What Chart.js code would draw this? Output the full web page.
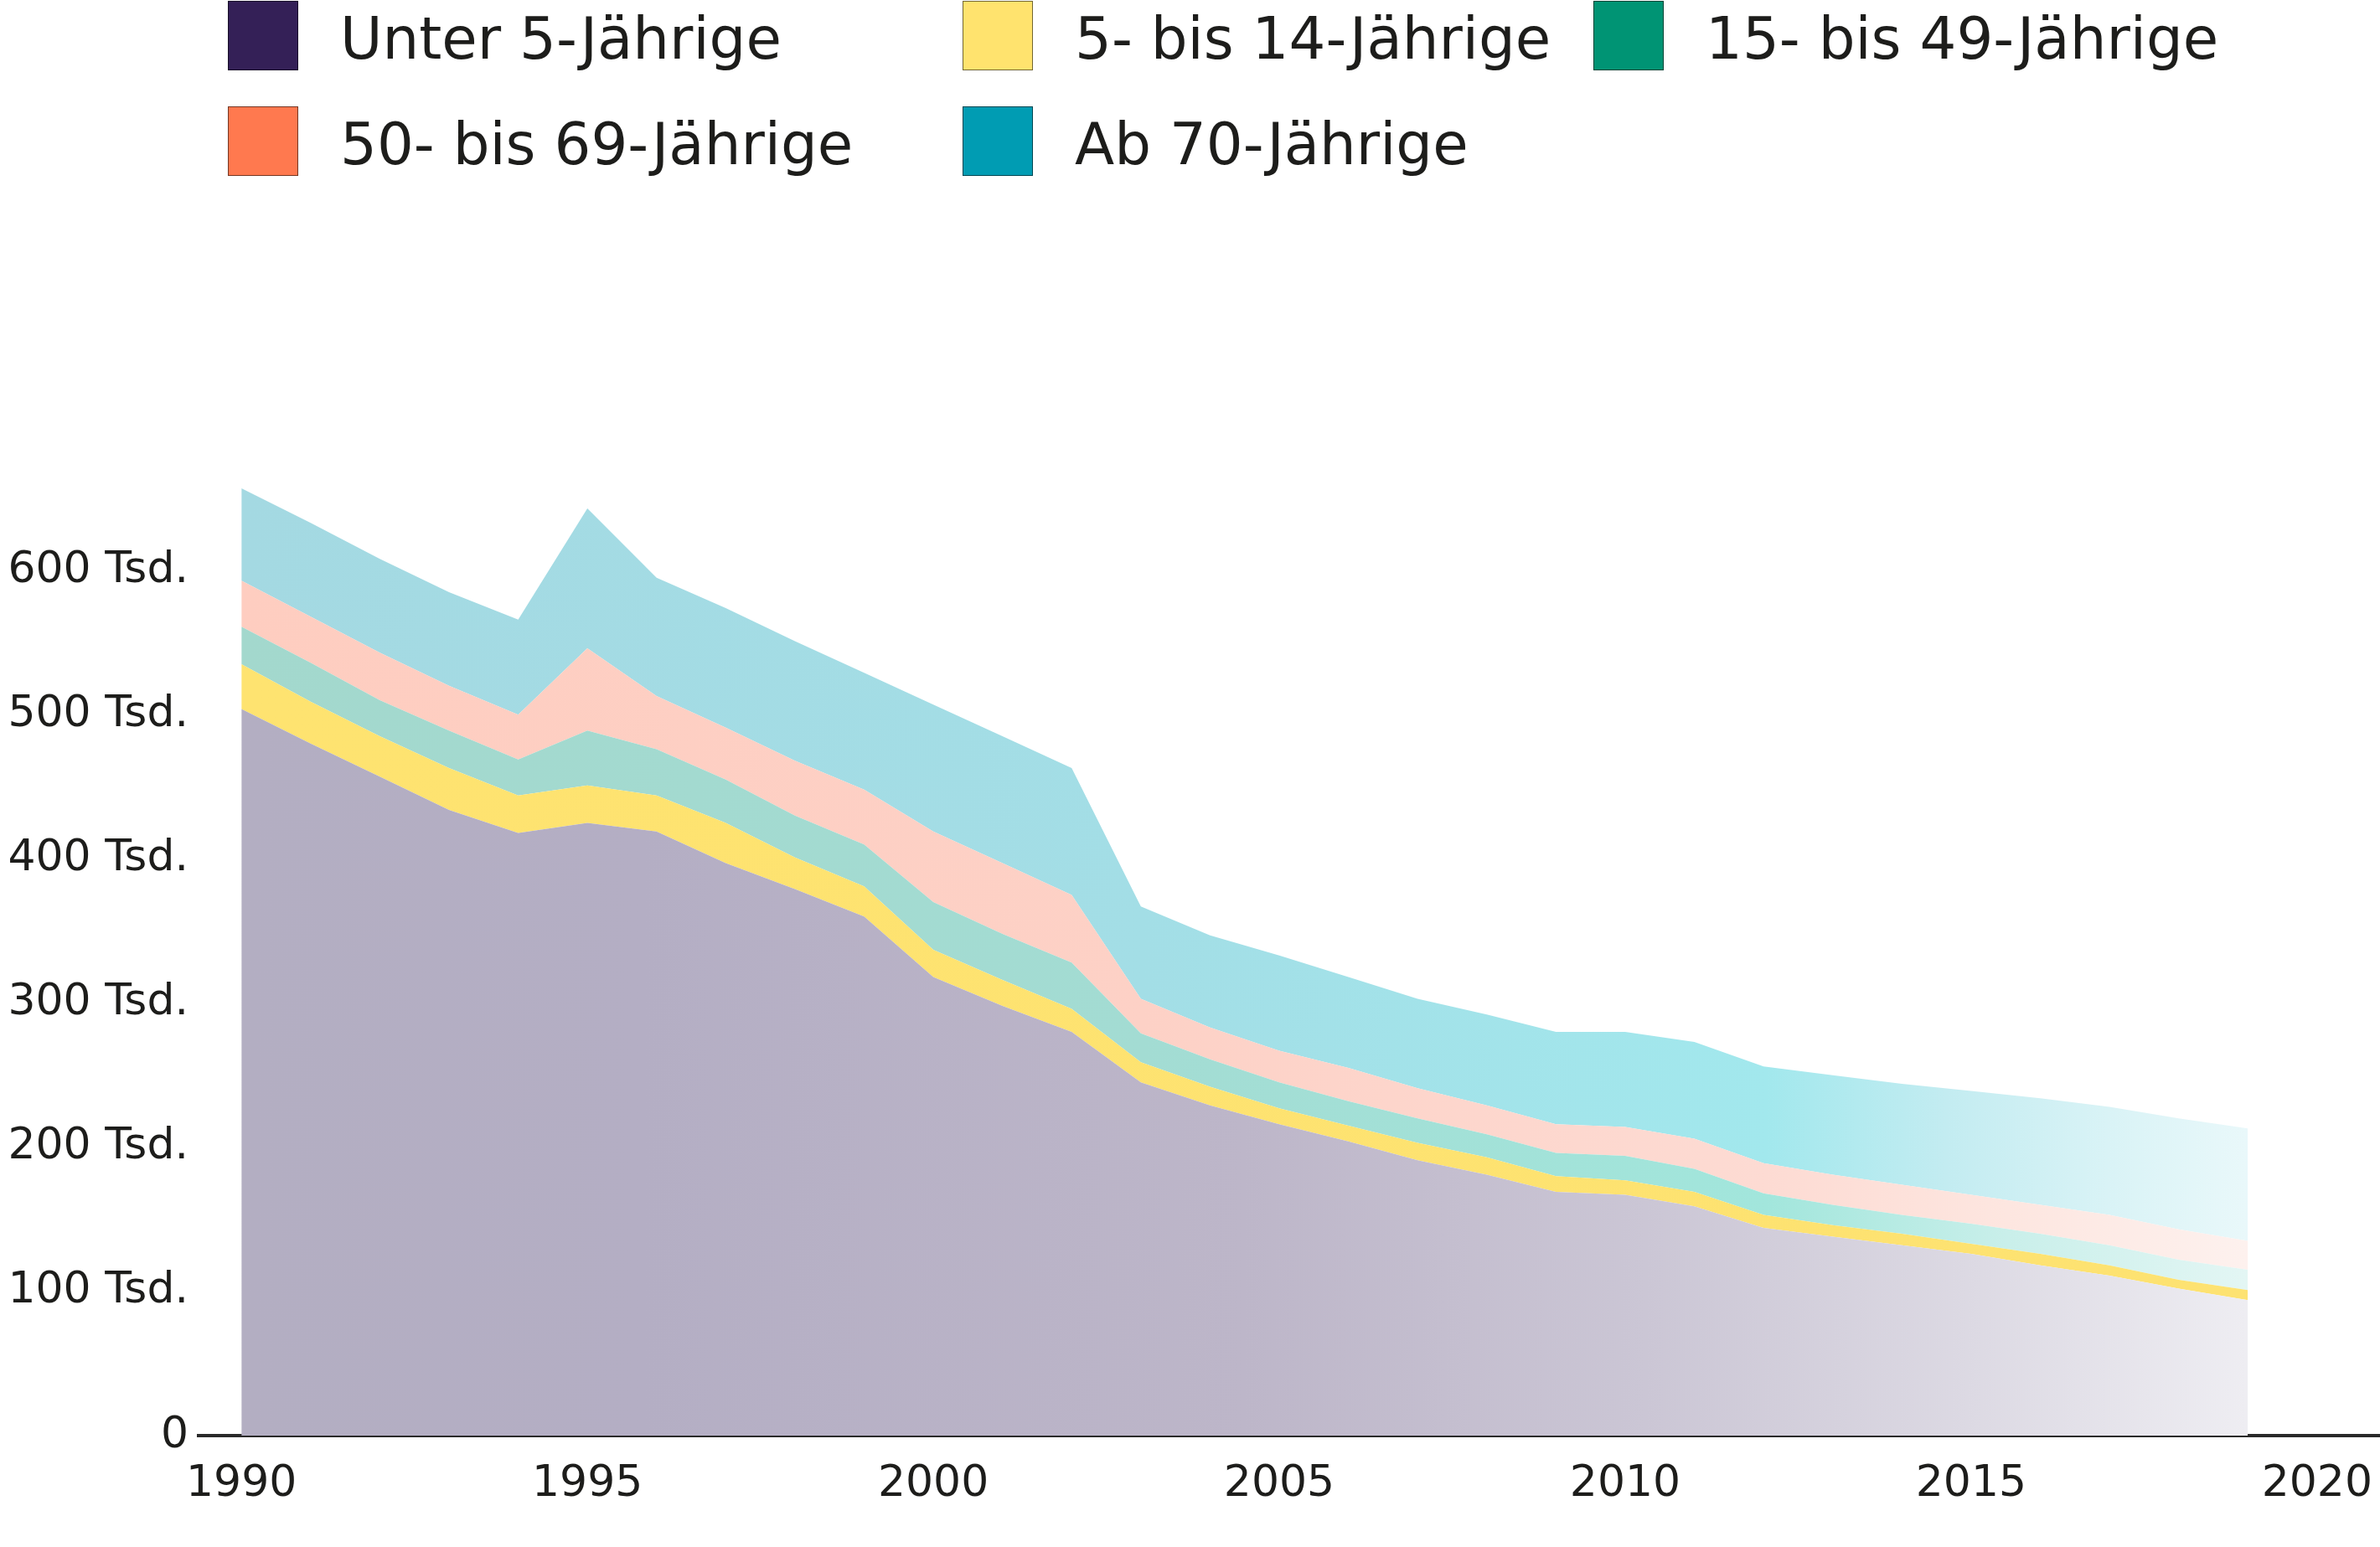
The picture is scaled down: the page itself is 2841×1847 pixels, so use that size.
<!DOCTYPE html>
<html>
<head>
<meta charset="utf-8">
<script src="https://cdn.jsdelivr.net/npm/chart.js@4.4.1/dist/chart.umd.min.js"></script>
<style>
html, body { margin: 0; padding: 0; background: #ffffff; }
#wrap { position: relative; width: 2841px; height: 1847px; overflow: hidden; }
#chart { position: absolute; left: 0; top: 0; }
.lg-item { position: absolute; height: 85px; font-family: 'DejaVu Sans', sans-serif; color: #1d1d1b; }
.lg-box { position: absolute; left: 0; top: 0; width: 84px; height: 83px; box-sizing: border-box; border: 1px solid rgba(0,0,0,0.55); }
.lg-text { position: absolute; left: 134px; top: 10px; font-size: 69px; line-height: 70px; white-space: nowrap; }
</style>
</head>
<body>
<div id="wrap">
  <canvas id="chart" width="2841" height="1847"></canvas>
  <div id="legend"></div>
</div>
<script>
// ---- Data (Tsd.) ----
const years = [1990,1991,1992,1993,1994,1995,1996,1997,1998,1999,2000,2001,2002,2003,2004,2005,2006,2007,2008,2009,2010,2011,2012,2013,2014,2015,2016,2017,2018,2019];
const seriesLabels = ['Unter 5-Jährige','5- bis 14-Jährige','15- bis 49-Jährige','50- bis 69-Jährige','Ab 70-Jährige'];
const under5    = [504,480,457,434,418,425,419,397,379,360,318,298,280,245,229,216,204,191,181,169,167,159,144,138,132,126,118,111,102,94];
const age5to14  = [31,29,28,29,26,26,25,28,22,21,19,18,16,14,13,11,11,12,12,11,10,10,9,8,8,7,8,7,6,7];
const age15to49 = [26,27,25,26,25,38,32,30,29,29,33,32,32,20,19,18,17,17,16,16,17,16,15,14,13,14,14,14,14,14];
const age50to69 = [32,32,33,31,31,57,37,36,38,38,49,49,47,24,22,22,23,21,20,20,20,21,21,21,21,20,20,21,21,20];
const age70plus = [64,65,65,65,66,97,82,83,83,81,88,88,88,64,64,66,63,62,63,64,66,67,67,69,70,72,74,75,77,78];
const xTickValues = [1990,1995,2000,2005,2010,2015,2020];
const xTickLabels = ['1990','1995','2000','2005','2010','2015','2020'];
const yTickValues = [0,100,200,300,400,500,600];
const yTickLabels = ['0','100 Tsd.','200 Tsd.','300 Tsd.','400 Tsd.','500 Tsd.','600 Tsd.'];

// ---- Styles ----
const legendColors = ['#342057','#ffe36e','#009474','#ff794f','#009cb3'];
const fillStops = [
  [[0,'#b3aec2'],[0.2,'#b4aec4'],[0.5,'#bdb6c9'],[0.7,'#cbc6d5'],[0.86,'#dcd9e3'],[1,'#eeedf2']],
  [[0,'#fee370'],[1,'#fde271']],
  [[0,'#a3d8cd'],[0.45,'#a3dcd3'],[0.76,'#a2e6dc'],[0.88,'#c9efea'],[1,'#e3f6f4']],
  [[0,'#fecdc0'],[0.45,'#fdd1c6'],[0.76,'#fddbd3'],[0.88,'#fde6e0'],[1,'#fdf1ee']],
  [[0,'#a4d9e2'],[0.45,'#a3dee6'],[0.76,'#a2e8ed'],[0.85,'#c3ecf1'],[0.93,'#d9f3f6'],[1,'#e9f8fa']]
];
const seriesValues = [under5, age5to14, age15to49, age50to69, age70plus];

function gradientFor(idx) {
  return function(ctx) {
    const chart = ctx.chart;
    const stops = fillStops[idx];
    if (!chart.chartArea || !chart.scales.x) return stops[0][1];
    const xs = chart.scales.x;
    const x0 = xs.getPixelForValue(years[0]);
    const x1 = xs.getPixelForValue(years[years.length - 1]);
    const g = chart.ctx.createLinearGradient(x0, 0, x1, 0);
    stops.forEach(s => g.addColorStop(s[0], s[1]));
    return g;
  };
}

const datasets = seriesValues.map((vals, i) => ({
  label: seriesLabels[i],
  data: years.map((y, j) => ({ x: y, y: vals[j] })),
  backgroundColor: gradientFor(i),
  borderWidth: 0,
  borderColor: 'rgba(0,0,0,0)',
  pointRadius: 0,
  pointHoverRadius: 0,
  tension: 0,
  fill: i === 0 ? 'origin' : '-1'
}));

// ---- Legend (HTML, real text) ----
const legendCols = [272, 1149, 1902];
const legendRows = [1, 127];
const legendEl = document.getElementById('legend');
seriesLabels.forEach((lab, i) => {
  const col = i < 3 ? i : i - 3;
  const row = i < 3 ? 0 : 1;
  const item = document.createElement('div');
  item.className = 'lg-item';
  item.style.left = legendCols[col] + 'px';
  item.style.top = legendRows[row] + 'px';
  const box = document.createElement('div');
  box.className = 'lg-box';
  box.style.background = legendColors[i];
  const txt = document.createElement('div');
  txt.className = 'lg-text';
  txt.textContent = lab;
  item.appendChild(box);
  item.appendChild(txt);
  legendEl.appendChild(item);
});

// ---- Chart ----
Chart.defaults.font.family = "'DejaVu Sans', sans-serif";
new Chart(document.getElementById('chart'), {
  type: 'line',
  data: { datasets },
  options: {
    responsive: false,
    animation: false,
    devicePixelRatio: 1,
    layout: { padding: { top: 509, left: 0, right: 0, bottom: 0 } },
    plugins: { legend: { display: false }, tooltip: { enabled: false } },
    elements: { line: { borderWidth: 0 } },
    scales: {
      x: {
        type: 'linear',
        min: 1989.38,
        max: 2020.91,
        grid: { display: false, drawTicks: false, tickLength: 0 },
        border: { display: true, color: '#2a2a2a', width: 4 },
        ticks: {
          padding: 27,
          color: '#1d1d1b',
          font: { size: 52 },
          maxRotation: 0,
          autoSkip: false,
          callback: (v) => { const k = xTickValues.indexOf(v); return k >= 0 ? xTickLabels[k] : ''; }
        },
        afterBuildTicks: (s) => { s.ticks = xTickValues.map(v => ({ value: v })); },
        afterFit: (s) => { s.height = 133; s.paddingLeft = 0; s.paddingRight = 0; }
      },
      y: {
        stacked: true,
        min: 0,
        max: 700,
        grid: { display: false, drawTicks: false, tickLength: 0 },
        border: { display: false },
        ticks: {
          padding: 12,
          color: '#1d1d1b',
          font: { size: 52 },
          autoSkip: false,
          callback: (v) => { const k = yTickValues.indexOf(v); return k >= 0 ? yTickLabels[k] : ''; }
        },
        afterBuildTicks: (s) => { s.ticks = yTickValues.map(v => ({ value: v })); },
        afterFit: (s) => { s.width = 237; s.paddingTop = 0; s.paddingBottom = 0; }
      }
    }
  }
});
</script>
</body>
</html>
